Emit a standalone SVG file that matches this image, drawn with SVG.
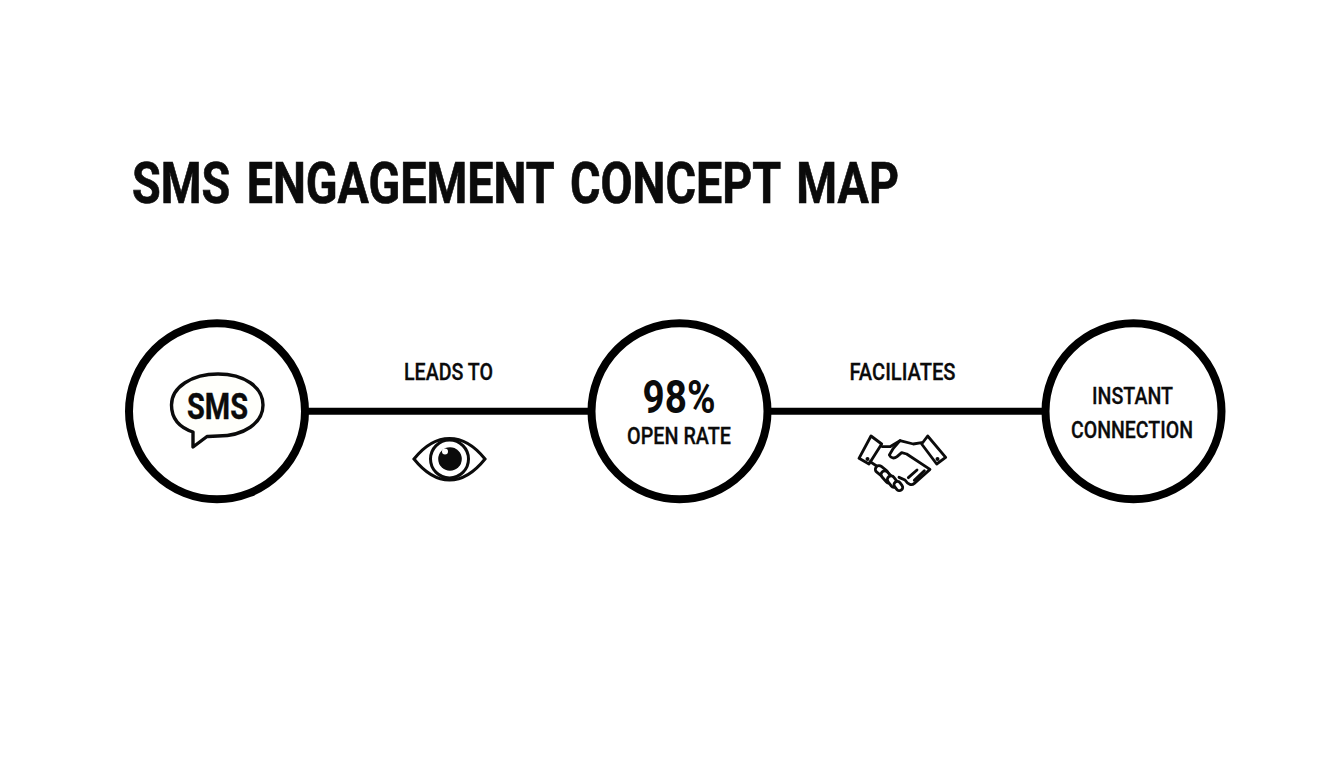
<svg xmlns="http://www.w3.org/2000/svg" width="1344" height="768" viewBox="0 0 1344 768">
<style>
text{font-family:Roboto,"Liberation Sans",sans-serif;fill:#0b0b0b;text-anchor:middle;font-weight:700}
.ring{fill:#fff;stroke:#000;stroke-width:8}
.line{fill:none;stroke:#000;stroke-width:7}
.ico{fill:none;stroke:#0b0b0b;stroke-width:8.500;stroke-linejoin:round;stroke-linecap:round}
.cap{fill:#fff}
.lbl{font-size:24px;font-weight:500;stroke:#0b0b0b;stroke-width:0.300}
.sub{font-size:24px;font-weight:500;stroke:#0b0b0b;stroke-width:0.300}
</style>
<rect width="1344" height="768" fill="#fff"/>
<text id="title" x="515.500" y="202.500" font-size="58" word-spacing="6" textLength="767" lengthAdjust="spacingAndGlyphs" stroke="#0b0b0b" stroke-width="0.700">SMS ENGAGEMENT CONCEPT MAP</text>
<g id="connectors">
<line class="line" x1="305" y1="411.300" x2="592" y2="411.300"/>
<line class="line" x1="767" y1="411.300" x2="1046" y2="411.300"/>
</g>
<g id="node-sms">
<circle class="ring" cx="217" cy="411.300" r="88"/>
<path d="M193 432 C178 427 171.500 417 171.500 405 C171.500 387 192 374 218 374 C244 374 263 387 263 405 C263 423 244 436 218 436 C214 436 210 436.300 207 436.500 L193 447 Z" fill="#fffffb" stroke="#0b0b0b" stroke-width="3.400" stroke-linejoin="round"/>
<text x="217.500" y="418.500" font-size="36" font-weight="500" textLength="61" lengthAdjust="spacingAndGlyphs" stroke="#0b0b0b" stroke-width="0.400">SMS</text>
</g>
<g id="node-open-rate">
<circle class="ring" cx="679.500" cy="411.300" r="88"/>
<text x="679" y="412.500" font-size="46" textLength="73" lengthAdjust="spacingAndGlyphs">98%</text>
<text class="sub" x="679" y="444" textLength="104" lengthAdjust="spacingAndGlyphs">OPEN RATE</text>
</g>
<g id="node-instant">
<circle class="ring" cx="1133.500" cy="411.300" r="88"/>
<text class="sub" x="1132.500" y="404" textLength="81" lengthAdjust="spacingAndGlyphs">INSTANT</text>
<text class="sub" x="1132" y="437.500" textLength="122" lengthAdjust="spacingAndGlyphs">CONNECTION</text>
</g>
<g id="label-leads">
<text class="lbl" x="448.500" y="380" textLength="89" lengthAdjust="spacingAndGlyphs">LEADS TO</text>
<path d="M414 459 C426 444 438 438.500 449.500 438.500 C461 438.500 473 444 485 459 C473 474 461 480 449.500 480 C438 480 426 474 414 459 Z" fill="none" stroke="#0b0b0b" stroke-width="3"/>
<circle cx="449.500" cy="459" r="19" fill="#fff" stroke="#0b0b0b" stroke-width="3"/>
<circle cx="450" cy="459" r="11.800" fill="#0b0b0b"/>
<circle cx="445" cy="451.500" r="3" fill="#fff"/>
</g>
<g id="label-facilitates">
<text class="lbl" x="902.500" y="380" textLength="106" lengthAdjust="spacingAndGlyphs">FACILIATES</text>
<g class="ico" transform="translate(855 430) scale(0.33333)">
<path d="M48 18 L80 42 L42 102 L12 85 Z"/>
<path d="M218 18 L272 82 L245 102 L200 42 Z"/>
<path d="M82 50 L105 50 L135 32 L175 42 L200 38"/>
<path d="M135 32 L115 55 L103 75 C108 86 118 86 126 80 L140 68 L155 72 L225 118 L178 160 C170 167 160 165 150 150 L132 142"/>
<path d="M45 95 L65 108"/>
<path d="M186 120 L160 143 M208 122 L178 151"/>
<rect class="cap" x="-21" y="-11" width="42" height="22" rx="11" transform="translate(80 124) rotate(38)"/>
<rect class="cap" x="-21" y="-11" width="42" height="22" rx="11" transform="translate(96 141) rotate(48)"/>
<rect class="cap" x="-19" y="-11" width="38" height="22" rx="11" transform="translate(113 155) rotate(52)"/>
<rect class="cap" x="-15" y="-10" width="30" height="20" rx="10" transform="translate(130 168) rotate(52)"/>
</g>
<circle cx="867.500" cy="459" r="2" fill="#0b0b0b"/>
<circle cx="937.500" cy="459" r="2" fill="#0b0b0b"/>
</g>
</svg>
